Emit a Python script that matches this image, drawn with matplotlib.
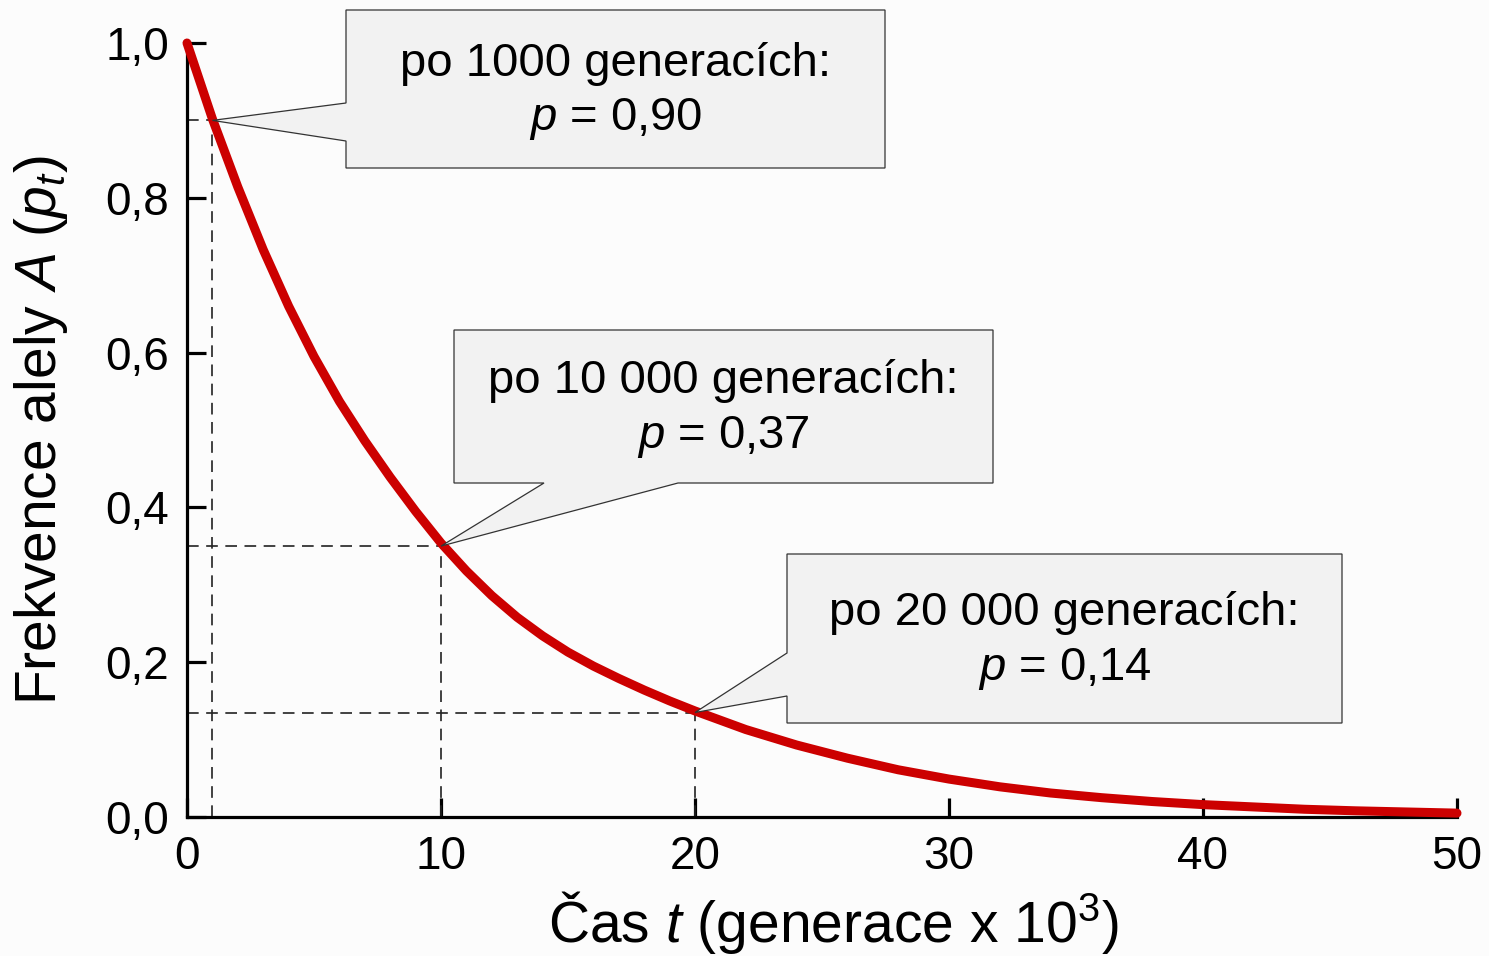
import matplotlib
matplotlib.use("Agg")
import matplotlib.pyplot as plt
from matplotlib.patches import Polygon

plt.rcParams['font.family'] = ['Liberation Sans', 'DejaVu Sans']
plt.rcParams['mathtext.fontset'] = 'custom'
plt.rcParams['mathtext.rm'] = 'Liberation Sans'
plt.rcParams['mathtext.it'] = 'Liberation Sans:italic'
plt.rcParams['mathtext.bf'] = 'Liberation Sans:bold'

# cas t (x 1000 generaci) a frekvence alely A odectena z obrazku
t = [0, 1, 2, 3, 4, 5, 6, 7, 8, 9, 10, 11, 12, 13, 14, 15, 16, 17, 18, 19, 20,
     22, 24, 26, 28, 30, 32, 34, 36, 38, 40, 42, 44, 46, 48, 50]
p = [1.000, 0.902, 0.814, 0.733, 0.660, 0.595, 0.537, 0.486, 0.439, 0.395, 0.354,
     0.318, 0.286, 0.258, 0.234, 0.213, 0.195, 0.179, 0.164, 0.150, 0.137,
     0.113, 0.093, 0.076, 0.061, 0.049, 0.039, 0.031, 0.025, 0.020, 0.016,
     0.013, 0.010, 0.008, 0.0065, 0.005]

marked_t = [1, 10, 20]
marked_p = [0.90, 0.35, 0.135]
labels = ["po 1000 generacích:\n$p$ = 0,90",
          "po 10 000 generacích:\n$p$ = 0,37",
          "po 20 000 generacích:\n$p$ = 0,14"]

xticks = [0, 10, 20, 30, 40, 50]
yticks = [0.0, 0.2, 0.4, 0.6, 0.8, 1.0]
yticklabels = ['0,0', '0,2', '0,4', '0,6', '0,8', '1,0']

W, H = 1489, 956
bg = '#fcfcfc'

fig = plt.figure(figsize=(W / 100, H / 100), dpi=100, facecolor=bg)
ax = fig.add_axes([187 / W, (H - 817) / H, 1270 / W, 774 / H])
ax.set_facecolor(bg)
ax.set_xlim(0, 50)
ax.set_ylim(0, 1)

for s in ['top', 'right']:
    ax.spines[s].set_visible(False)
for s in ['left', 'bottom']:
    ax.spines[s].set_linewidth(2.3)

ax.set_xticks(xticks)
ax.set_yticks(yticks, yticklabels)
ax.tick_params(direction='in', length=14, width=2.3, labelsize=33, pad=13)

for mt, mp in zip(marked_t, marked_p):
    ax.plot([mt, mt], [0, mp], color='#222222', lw=1.2, ls=(0, (7, 4.5)), zorder=2)
    ax.plot([0, mt], [mp, mp], color='#222222', lw=1.2, ls=(0, (7, 4.5)), zorder=2)

ax.plot(t, p, color='#cc0000', lw=6.5, solid_capstyle='round', clip_on=False, zorder=3)

ax.set_xlabel("Čas $t$ (generace x 10$^3$)", fontsize=41)
ax.xaxis.set_label_coords(0.509, -0.093)
ax.set_ylabel("Frekvence alely $A$ ($p_t$)", fontsize=41)
ax.yaxis.set_label_coords(-0.092, 0.5)


def f(px, py):
    return (px / W, 1 - py / H)


def callout(text, tip, box, tail, side):
    tx, ty = fig.transFigure.inverted().transform(ax.transData.transform(tip))
    l, top, r, b = box
    if side == 'left':
        pts = [f(l, top), f(r, top), f(r, b), f(l, b), f(l, tail[1]), (tx, ty), f(l, tail[0])]
    else:
        pts = [f(l, top), f(r, top), f(r, b), f(tail[1], b), (tx, ty), f(tail[0], b), f(l, b)]
    fig.add_artist(Polygon(pts, closed=True, transform=fig.transFigure,
                           fc='#f2f2f2', ec='#333333', lw=0.9, zorder=5))
    cx, cy = f((l + r) / 2, (top + b) / 2 + 3)
    fig.text(cx, cy, text, ha='center', va='center', fontsize=34,
             linespacing=1.32, zorder=6)


boxes = [(346, 10, 885, 168), (454, 330, 993, 483), (787, 554, 1342, 723)]
tails = [(103, 141), (544, 678), (653, 696)]
sides = ['left', 'bottom', 'left']

for i in range(3):
    callout(labels[i], (marked_t[i], marked_p[i]), boxes[i], tails[i], sides[i])

fig.savefig('out.png', dpi=100, facecolor=bg)
